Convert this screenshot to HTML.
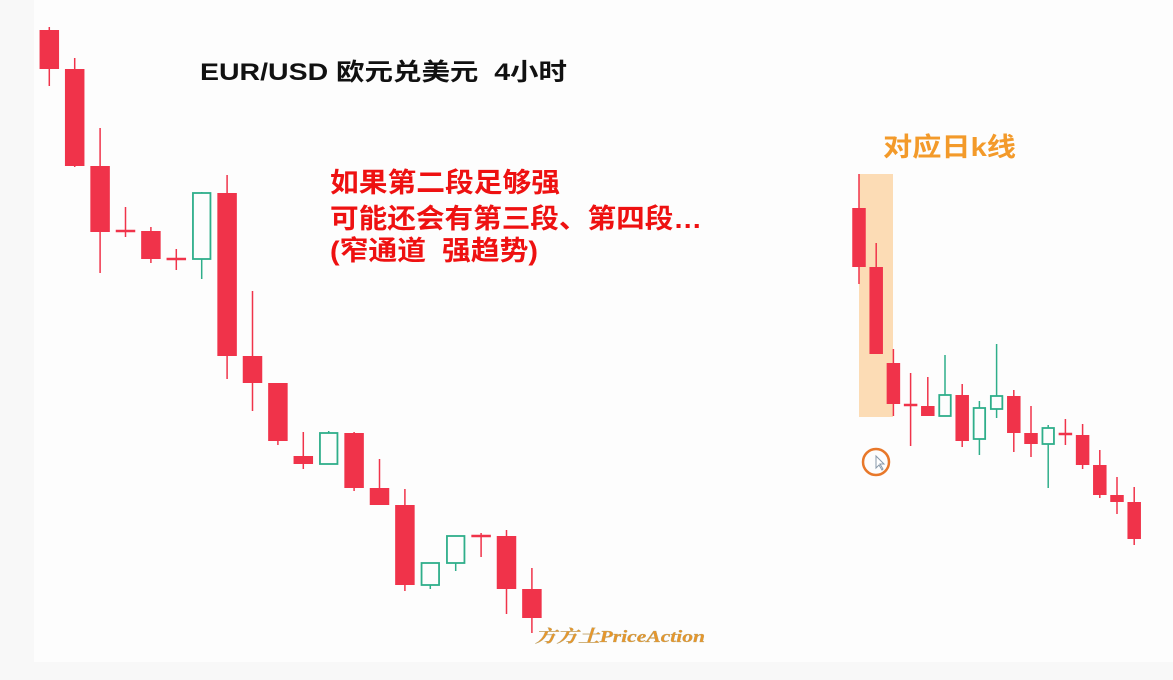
<!DOCTYPE html>
<html><head><meta charset="utf-8">
<style>
html,body{margin:0;padding:0;background:#f8f8f8;}
svg{display:block;}
text{white-space:pre;}
</style></head>
<body>
<svg id="chart" width="1173" height="680" xmlns="http://www.w3.org/2000/svg">
<rect x="34" y="0" width="1139" height="662" fill="#fdfdfd"/>
<rect x="859" y="174" width="34" height="243" fill="#fcdcb5"/>
<g id="left"></g>
<g id="right"></g>
<text x="200" y="80" textLength="367" lengthAdjust="spacingAndGlyphs" font-family="'Liberation Sans','Noto Sans CJK SC',sans-serif" font-weight="bold" font-size="24" fill="#111">EUR/USD 欧元兑美元  4小时</text>
<g font-family="'Liberation Sans','Noto Sans CJK SC',sans-serif" font-weight="bold" font-size="27" fill="#ee1111">
<text x="330" y="192" textLength="230" lengthAdjust="spacingAndGlyphs">如果第二段足够强</text>
<text x="330" y="228" textLength="372" lengthAdjust="spacingAndGlyphs">可能还会有第三段、第四段…</text>
<text x="330" y="260" textLength="208" lengthAdjust="spacingAndGlyphs">(窄通道  强趋势)</text>
</g>
<text x="883" y="156" textLength="133" lengthAdjust="spacingAndGlyphs" font-family="'Liberation Sans','Noto Sans CJK SC',sans-serif" font-weight="bold" font-size="26" fill="#f39a2a">对应日k线</text>
<circle cx="876" cy="462" r="13" fill="none" stroke="#e8782a" stroke-width="2.5"/>
<path d="M876 456 L876 468 L879 465 L882 470 L883 469 L880 464 L884 464 Z" fill="#fff" stroke="#8899aa" stroke-width="1"/>
<text x="535" y="642" textLength="170" lengthAdjust="spacingAndGlyphs" font-family="'Liberation Serif','Noto Serif CJK SC',serif" font-style="italic" font-weight="bold" font-size="17" fill="#e8962a" stroke="#b0a070" stroke-width="0.3">方方土PriceAction</text>
</svg>
<script>
// prices: value = 700 - pixel row (arbitrary price units)
const leftOpen  = [670,631,534,469,469,441,441,507,344,317,244,236,267,212,195,115,137,164,164,111];
const leftClose = [631,534,468,469,441,441,507,344,317,259,236,267,212,195,115,137,164,164,111, 82];
const leftHigh  = [673,642,572,493,473,451,508,525,409,317,268,269,268,241,211,137,158,167,170,132];
const leftLow   = [614,533,427,463,437,430,421,321,289,255,231,240,209,195,109,111,129,143, 86, 67];
const rightOpen  = [492,433,337,295,294,284,305,261,291,304,267,256,266,265,235,205,198];
const rightClose = [433,346,296,295,284,305,259,292,304,267,256,272,266,235,205,198,161];
const rightHigh  = [526,457,351,327,323,345,316,299,356,310,294,275,281,276,250,223,213];
const rightLow   = [416,346,284,254,284,284,253,245,282,248,243,212,255,231,202,186,155];

function yScale(p){ return 700 - p; }
function xLeft(i){ return 49.3 + i*25.4; }
function xRight(i){ return 859 + i*17.2; }
const NS = 'http://www.w3.org/2000/svg';
const RED = '#f0334a', GREEN = '#2fae8a';

function drawSet(gid, O, C, H, L, xf, bw, prefix){
  const g = document.getElementById(gid);
  for(let i=0;i<O.length;i++){
    const up = C[i] > O[i];
    const col = up ? GREEN : RED;
    const cx = xf(i);
    const cg = document.createElementNS(NS,'g');
    
    
    const w = document.createElementNS(NS,'line');
    
    
    w.setAttribute('x1', cx); w.setAttribute('x2', cx);
    w.setAttribute('y1', yScale(H[i])); w.setAttribute('y2', yScale(L[i]));
    w.setAttribute('stroke', col); w.setAttribute('stroke-width', 1.5);
    cg.appendChild(w);
    const top = yScale(Math.max(O[i],C[i])), bot = yScale(Math.min(O[i],C[i]));
    const b = document.createElementNS(NS,'rect');
    
    
    const h = Math.max(bot-top, 0);
    if(up){
      b.setAttribute('x', cx-bw/2+1); b.setAttribute('y', top);
      b.setAttribute('width', bw-2); b.setAttribute('height', Math.max(h,1));
      b.setAttribute('fill', '#fdfdfd'); b.setAttribute('stroke', col); b.setAttribute('stroke-width', 1.8);
    } else {
      b.setAttribute('x', cx-bw/2); b.setAttribute('y', h<2 ? top-1.25 : top);
      b.setAttribute('width', bw); b.setAttribute('height', Math.max(h,2.5));
      b.setAttribute('fill', col);
    }
    cg.appendChild(b);
    g.appendChild(cg);
  }
}
drawSet('left', leftOpen, leftClose, leftHigh, leftLow, xLeft, 19.5, 'h4');
drawSet('right', rightOpen, rightClose, rightHigh, rightLow, xRight, 13.5, 'daily');
</script>
</body></html>
